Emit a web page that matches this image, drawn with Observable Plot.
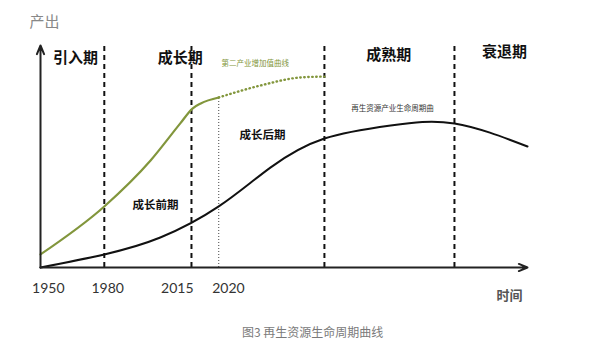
<!DOCTYPE html>
<html>
<head>
<meta charset="utf-8">
<script src="https://cdn.jsdelivr.net/npm/d3@7"></script>
<script src="https://cdn.jsdelivr.net/npm/@observablehq/plot@0.6"></script>
<style>
  html, body { margin: 0; padding: 0; background: #fff; }
  #chart { width: 600px; height: 351px; position: relative; overflow: hidden; }
  #cap { font-family: "Noto Sans CJK SC", sans-serif; font-size: 12px; color: #7a7a7a;
         height: 28px; line-height: 28px; padding-left: 242px; }
</style>
</head>
<body>
<div id="chart"></div>
<script>
// ---- data (abstract time units 0..100, output units 0..100) ----
const lifeT = [0, 13.1, 24.6, 36.6, 47.2, 58.3, 71.9, 85.0, 100];
const lifeV = [0, 5.9, 13.5, 27.5, 45.0, 58.1, 64.0, 64.9, 54.5];

const secT = [0, 13.1, 22.6, 28.7, 31.2, 32.9, 36.6];
const secV = [5.9, 27.5, 48.2, 64.9, 71.6, 73.9, 76.6];

const secFcT = [36.6, 45.2, 53.4, 58.3];
const secFcV = [76.6, 82.0, 85.6, 86.0];

const boundaries = [13.1, 31.0, 58.3, 85.0];
const nowMark = 36.6;

const tickLabels = ["1950", "1980", "2015", "2020"];
const tickPos = [1.6, 13.8, 28.1, 38.6];

const phaseNames = ["引入期", "成长期", "成熟期", "衰退期"];
const phaseX = [7.2, 28.7, 71.5, 95.3];
const phaseY = [94.1, 94.1, 95.5, 96.8];

const subNames = ["成长前期", "成长后期"];
const subX = [23.6, 45.6];
const subY = [27.9, 59.5];

const curveNames = ["第二产业增加值曲线", "再生资源产业生命周期曲"];
const curveX = [44.1, 72.3];
const curveY = [91.9, 71.6];

// ---- build tables ----
const life = lifeT.map((t, i) => ({t, v: lifeV[i]}));
const sec = secT.map((t, i) => ({t, v: secV[i]}));
const secFc = secFcT.map((t, i) => ({t, v: secFcV[i]}));
const ticks = tickLabels.map((s, i) => ({t: tickPos[i], s}));
const phases = phaseNames.map((s, i) => ({t: phaseX[i], v: phaseY[i], s}));
const subs = subNames.map((s, i) => ({t: subX[i], v: subY[i], s}));
const curves = curveNames.map((s, i) => ({t: curveX[i], v: curveY[i], s}));

const GREEN = "#82963c";
const cjk = "'Noto Sans CJK SC', sans-serif";

const plot = Plot.plot({
  width: 600,
  height: 318,
  marginLeft: 40,
  marginRight: 73,
  marginTop: 45,
  marginBottom: 51,
  x: {domain: [0, 100], axis: null},
  y: {domain: [0, 100], axis: null},
  style: {background: "#fff", overflow: "visible"},
  marks: [
    // period boundaries
    Plot.ruleX(boundaries, {x: d => d, y1: 0, y2: 101, stroke: "#111", strokeWidth: 2, strokeDasharray: "5,4"}),
    Plot.ruleX([nowMark], {x: d => d, y1: 0, y2: secFcV[0], stroke: "#444", strokeWidth: 1, strokeDasharray: "1,2"}),
    // curves
    Plot.line(sec, {x: "t", y: "v", stroke: GREEN, strokeWidth: 2.2, curve: "monotone-x"}),
    Plot.line(secFc, {x: "t", y: "v", stroke: GREEN, strokeWidth: 2.4, strokeDasharray: "0.5,3.5", strokeLinecap: "round", curve: "monotone-x"}),
    Plot.line(life, {x: "t", y: "v", stroke: "#111", strokeWidth: 2, curve: "natural"}),
    // axes
    Plot.arrow([{x1: 0, y1: 0, x2: 100, y2: 0}], {x1: "x1", y1: "y1", x2: "x2", y2: "y2", stroke: "#222", strokeWidth: 2, headLength: 7, headAngle: 45}),
    Plot.arrow([{x1: 0, y1: 0, x2: 0, y2: 100}], {x1: "x1", y1: "y1", x2: "x2", y2: "y2", stroke: "#222", strokeWidth: 2, headLength: 7, headAngle: 45}),
    // tick labels
    Plot.text(ticks, {x: "t", y: () => -9.5, text: "s", fontSize: 14, fill: "#333", fontFamily: "Lato, 'Open Sans', sans-serif"}),
    // axis titles
    Plot.text(["产出"], {x: () => 0.8, y: () => 110.4, text: d => d, fontSize: 15, fill: "#888", fontFamily: cjk}),
    Plot.text(["时间"], {x: () => 96.3, y: () => -12.6, text: d => d, fontSize: 13, fontWeight: "bold", fill: "#555", fontFamily: cjk}),
    // phase labels
    Plot.text(phases, {x: "t", y: "v", text: "s", fontSize: 15, fontWeight: "bold", fill: "#111", fontFamily: cjk}),
    Plot.text(subs, {x: "t", y: "v", text: "s", fontSize: 11.5, fontWeight: "bold", fill: "#111", fontFamily: cjk}),
    Plot.text(curves.slice(0, 1), {x: "t", y: "v", text: "s", fontSize: 7.5, fill: GREEN, fontFamily: cjk}),
    Plot.text(curves.slice(1), {x: "t", y: "v", text: "s", fontSize: 7.5, fill: "#333", fontFamily: cjk})
  ]
});

const chart = document.getElementById("chart");
chart.appendChild(plot);
const cap = document.createElement("div");
cap.id = "cap";
cap.textContent = "图3 再生资源生命周期曲线";
chart.appendChild(cap);
</script>
</body>
</html>
